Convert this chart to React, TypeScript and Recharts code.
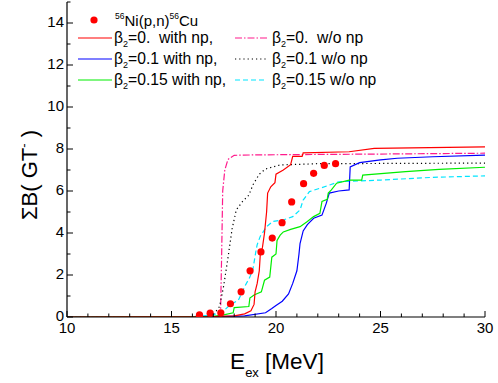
import React from 'react';
import { ComposedChart, Line, Scatter, XAxis, YAxis } from 'recharts';

// experimental 56Ni(p,n)56Cu points
const expE = [16.34, 16.85, 17.36, 17.82, 18.33, 18.76, 19.28, 19.82, 20.29, 20.75, 21.32, 21.8, 22.31, 22.85];
const expB = [0.1, 0.18, 0.2, 0.63, 1.2, 2.2, 3.1, 3.76, 4.49, 5.48, 6.35, 6.84, 7.22, 7.3];

// beta2 = 0 with np
const b0npE = [10, 17, 18.0, 18.5, 18.8, 18.95, 19.0, 19.1, 19.2, 19.25, 19.35, 19.45, 19.55, 19.6, 19.75, 19.95, 20.0, 20.35, 20.7, 20.8, 21.25, 21.3, 23.5, 24.7, 30];
const b0npB = [0, 0.02, 0.05, 0.15, 0.3, 0.6, 1.2, 1.6, 2.2, 3.0, 3.3, 4.0, 5.0, 5.9, 6.2, 6.4, 6.8, 7.0, 7.25, 7.65, 7.65, 7.82, 7.87, 8.03, 8.1];

// beta2 = 0.1 with np
const b1npE = [10, 17, 18.5, 19.5, 19.8, 20.0, 20.3, 20.6, 20.8, 21.0, 21.1, 21.15, 21.3, 21.5, 21.8, 22.2, 22.4, 22.55, 23.0, 23.5, 23.55, 24.0, 25.0, 25.8, 27.5, 30];
const b1npB = [0, 0.01, 0.05, 0.2, 0.4, 0.55, 0.75, 1.1, 1.6, 2.2, 3.0, 3.5, 4.1, 4.4, 4.7, 4.85, 5.4, 5.9, 6.0, 6.05, 7.15, 7.35, 7.48, 7.56, 7.63, 7.71];

// beta2 = 0.15 with np
const b15npE = [10, 17.0, 17.5, 17.95, 18.0, 18.7, 18.75, 18.95, 19.3, 19.45, 19.7, 19.8, 20.0, 20.05, 20.2, 20.35, 20.7, 21.15, 21.5, 21.8, 22.1, 22.2, 22.45, 22.5, 22.65, 22.9, 23.5, 24.1, 24.15, 26.2, 27.8, 30];
const b15npB = [0, 0.03, 0.1, 0.2, 0.45, 0.5, 0.9, 1.05, 1.2, 1.75, 1.9, 2.85, 3.0, 3.65, 3.9, 4.05, 4.17, 4.3, 4.55, 4.78, 4.94, 5.5, 5.6, 5.9, 6.05, 6.37, 6.52, 6.52, 6.76, 6.92, 7.03, 7.13];

// beta2 = 0 w/o np
const b0E = [10, 17.2, 17.35, 17.4, 17.45, 17.55, 17.7, 18.0, 19, 25, 30];
const b0B = [0, 0.02, 0.3, 3, 6.0, 7.0, 7.5, 7.7, 7.72, 7.76, 7.8];

// beta2 = 0.1 w/o np
const b1E = [10, 16.5, 17.0, 17.3, 17.5, 17.7, 17.9, 18.1, 18.4, 18.7, 18.9, 19.2, 19.5, 20.2, 22, 30];
const b1B = [0, 0.02, 0.1, 0.5, 1.5, 2.8, 4.2, 5.1, 5.5, 5.8, 6.3, 6.8, 7.05, 7.24, 7.3, 7.33];

// beta2 = 0.15 w/o np
const b15E = [10, 16.0, 17.0, 17.5, 17.8, 18.2, 18.5, 18.75, 18.9, 19.05, 19.1, 19.25, 19.55, 19.85, 20.35, 20.8, 21.15, 21.3, 21.6, 22.1, 22.6, 23.0, 25.0, 27.5, 30];
const b15B = [0, 0.02, 0.1, 0.3, 0.57, 0.8, 1.45, 1.9, 2.3, 3.2, 3.45, 3.85, 4.3, 4.55, 4.62, 4.78, 5.1, 5.57, 5.97, 6.13, 6.3, 6.44, 6.52, 6.65, 6.72];

const eTicks = [10, 11, 12, 13, 14, 15, 16, 17, 18, 19, 20, 21, 22, 23, 24, 25, 26, 27, 28, 29, 30];
const bTicks = [0, 1, 2, 3, 4, 5, 6, 7, 8, 9, 10, 11, 12, 13, 14, 15];

const toPoints = (xs: number[], ys: number[]) => xs.map((x, i) => ({ x, y: ys[i] }));

const FONT = '"Liberation Sans", Arial, sans-serif';

const BottomTick = ({ x, y, payload }: any) => {
  const major = payload.value % 5 === 0;
  return (
    <g>
      <line x1={x} x2={x} y1={y} y2={y - (major ? 6 : 3.5)} stroke="#000" />
      {major && (
        <text x={x} y={y + 16} textAnchor="middle" fontSize={15} fontFamily={FONT} fill="#000">
          {payload.value}
        </text>
      )}
    </g>
  );
};

const TopTick = ({ x, y, payload }: any) => {
  const major = payload.value % 5 === 0;
  return <line x1={x} x2={x} y1={y} y2={y + (major ? 6 : 3.5)} stroke="#000" />;
};

const LeftTick = ({ x, y, payload }: any) => {
  const major = payload.value % 2 === 0;
  return (
    <g>
      <line x1={x} x2={x + (major ? 6 : 3.5)} y1={y} y2={y} stroke="#000" />
      {major && payload.value < 15 && (
        <text x={x - 3} y={y + 4} textAnchor="end" fontSize={15} fontFamily={FONT} fill="#000">
          {payload.value}
        </text>
      )}
    </g>
  );
};

const RightTick = ({ x, y, payload }: any) => {
  const major = payload.value % 2 === 0;
  return <line x1={x} x2={x - (major ? 6 : 3.5)} y1={y} y2={y} stroke="#000" />;
};

const Beta = ({ v, tail }: { v: string; tail: string }) => (
  <>
    β<tspan fontSize={9} dy={4}>2</tspan>
    <tspan dy={-4}>={v}{tail}</tspan>
  </>
);

export default function App() {
  return (
    <div style={{ position: 'absolute', left: 0, top: 0, width: 498, height: 383, background: '#fff' }}>
      <ComposedChart width={498} height={383} margin={{ top: 2, right: 13, left: 0, bottom: 0 }}>
        <XAxis
          dataKey="x"
          type="number"
          domain={[10, 30]}
          ticks={eTicks}
          interval={0}
          height={66}
          tickSize={0}
          tickMargin={0}
          tick={BottomTick}
          axisLine={{ stroke: '#000', strokeWidth: 1.2 }}
          allowDataOverflow
        />
        <XAxis
          xAxisId="top"
          orientation="top"
          dataKey="x"
          type="number"
          domain={[10, 30]}
          ticks={eTicks}
          interval={0}
          height={0}
          tickSize={0}
          tickMargin={0}
          tick={TopTick}
          axisLine={{ stroke: '#000', strokeWidth: 1.2 }}
        />
        <YAxis
          type="number"
          domain={[0, 15]}
          ticks={bTicks}
          interval={0}
          width={67}
          tickSize={0}
          tickMargin={0}
          tick={LeftTick}
          axisLine={{ stroke: '#000', strokeWidth: 1.2 }}
          allowDataOverflow
        />
        <YAxis
          yAxisId="right"
          orientation="right"
          type="number"
          domain={[0, 15]}
          ticks={bTicks}
          interval={0}
          width={0}
          tickSize={0}
          tickMargin={0}
          tick={RightTick}
          axisLine={{ stroke: '#000', strokeWidth: 1.2 }}
        />
        <Line data={toPoints(b0E, b0B)} dataKey="y" type="linear" stroke="#ff1a8c" strokeWidth={1.2} strokeDasharray="7 2 1.5 2" dot={false} isAnimationActive={false} />
        <Line data={toPoints(b1E, b1B)} dataKey="y" type="linear" stroke="#000" strokeWidth={1.2} strokeDasharray="1.2 3" dot={false} isAnimationActive={false} />
        <Line data={toPoints(b15E, b15B)} dataKey="y" type="linear" stroke="#00e5ff" strokeWidth={1.2} strokeDasharray="5 3" dot={false} isAnimationActive={false} />
        <Line data={toPoints(b1npE, b1npB)} dataKey="y" type="linear" stroke="#0000ff" strokeWidth={1.2} dot={false} isAnimationActive={false} />
        <Line data={toPoints(b15npE, b15npB)} dataKey="y" type="linear" stroke="#00ee00" strokeWidth={1.2} dot={false} isAnimationActive={false} />
        <Line data={toPoints(b0npE, b0npB)} dataKey="y" type="linear" stroke="#ff0000" strokeWidth={1.2} dot={false} isAnimationActive={false} />
        <Scatter
          data={toPoints(expE, expB)}
          dataKey="y"
          fill="#ff0000"
          isAnimationActive={false}
          shape={(p: any) => <circle cx={p.cx} cy={p.cy} r={3.6} fill="#ff0000" />}
        />
      </ComposedChart>
      <svg width={498} height={383} style={{ position: 'absolute', left: 0, top: 0, pointerEvents: 'none' }} fontFamily={FONT}>
        {/* legend */}
        <circle cx={94} cy={20} r={3.6} fill="#ff0000" />
        <text x={115} y={26} fontSize={15} fill="#000">
          <tspan fontSize={8.5} dy={-7}>56</tspan>
          <tspan dy={7}>Ni(p,n)</tspan>
          <tspan fontSize={8.5} dy={-7}>56</tspan>
          <tspan dy={7}>Cu</tspan>
        </text>
        <line x1={78} x2={112} y1={38} y2={38} stroke="#ff0000" strokeWidth={1.2} />
        <line x1={78} x2={112} y1={59} y2={59} stroke="#0000ff" strokeWidth={1.2} />
        <line x1={78} x2={112} y1={80} y2={80} stroke="#00ee00" strokeWidth={1.2} />
        <line x1={235} x2={267} y1={38} y2={38} stroke="#ff1a8c" strokeWidth={1.2} strokeDasharray="7 2 1.5 2" />
        <line x1={235} x2={267} y1={59} y2={59} stroke="#000" strokeWidth={1.2} strokeDasharray="1.2 3" />
        <line x1={235} x2={267} y1={80} y2={80} stroke="#00e5ff" strokeWidth={1.2} strokeDasharray="5 3" />
        <text x={114} y={43} fontSize={15.7} fill="#000"><Beta v="0." tail={'\u00a0\u00a0with np,'} /></text>
        <text x={114} y={64} fontSize={15.7} fill="#000"><Beta v="0.1" tail=" with np," /></text>
        <text x={114} y={85} fontSize={15.7} fill="#000"><Beta v="0.15" tail=" with np," /></text>
        <text x={272} y={43} fontSize={15.7} fill="#000"><Beta v="0." tail={'\u00a0\u00a0w/o np'} /></text>
        <text x={272} y={64} fontSize={15.7} fill="#000"><Beta v="0.1" tail=" w/o np" /></text>
        <text x={272} y={85} fontSize={15.7} fill="#000"><Beta v="0.15" tail=" w/o np" /></text>
        {/* axis titles */}
        <text x={277} y={369} fontSize={22.5} textAnchor="middle" fill="#000">
          E<tspan fontSize={13} dy={8}>ex</tspan>
          <tspan dy={-8}> [MeV]</tspan>
        </text>
        <text transform="translate(37,175) rotate(-90)" fontSize={22} textAnchor="middle" fill="#000">
          ΣB( GT<tspan fontSize={13} dy={-9}>-</tspan>
          <tspan dy={9}> )</tspan>
        </text>
      </svg>
    </div>
  );
}
